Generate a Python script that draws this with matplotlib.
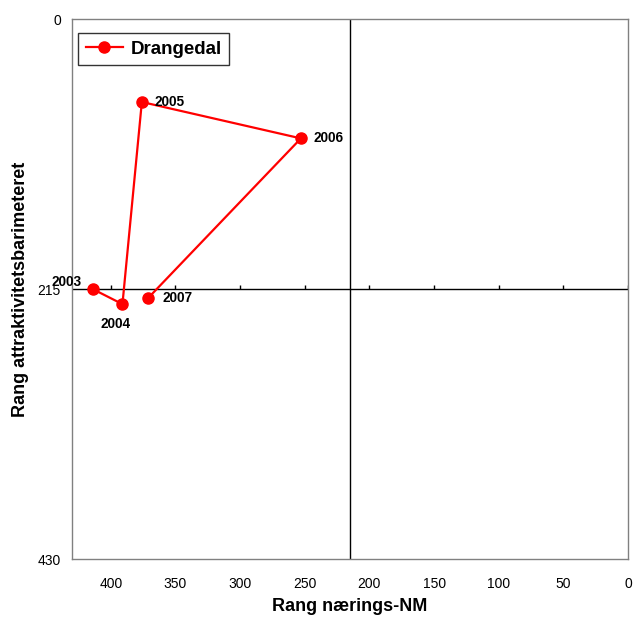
import matplotlib.pyplot as plt

plt.rcParams['font.family'] = ['Liberation Sans', 'DejaVu Sans']

# data
years = ['2003', '2004', '2005', '2006', '2007']
rang_nm = [414, 391, 376, 253, 371]
rang_attr = [215, 227, 66, 95, 222]
label_offsets = [(-30, 5), (-16, -14), (9, 0), (9, 0), (10, 0)]

xticks = [400, 350, 300, 250, 200, 150, 100, 50, 0]
yticks = [0, 215, 430]
midpoint = 215

fig = plt.figure(figsize=(6.34, 6.17), dpi=100)
ax = fig.add_axes([0.1136, 0.094, 0.877, 0.875])

# crosshair axes through the midpoint
ax.axhline(midpoint, color='black', lw=1.0, zorder=1)
ax.axvline(midpoint, color='black', lw=1.0, zorder=1)
ax.vlines(xticks, midpoint - 3, midpoint, color='black', lw=1.0, zorder=1)

ax.plot(rang_nm, rang_attr, color='red', lw=1.6, marker='o', ms=8,
        label='Drangedal', zorder=3)
for yr, x, y, off in zip(years, rang_nm, rang_attr, label_offsets):
    ax.annotate(yr, (x, y), xytext=off, textcoords='offset points',
                fontsize=9.8, fontweight='bold', va='center', ha='left')

ax.set_xlim(430, 0)
ax.set_ylim(430, 0)
ax.set_xticks(xticks)
ax.set_yticks(yticks)
ax.tick_params(axis='both', length=0, labelsize=10, pad=8)
ax.tick_params(axis='x', pad=13)
for s in ax.spines.values():
    s.set_color('#808080')
    s.set_linewidth(1.0)

ax.set_xlabel('Rang nærings-NM', fontsize=13, fontweight='bold', labelpad=5)
ax.set_ylabel('Rang attraktivitetsbarimeteret', fontsize=13, fontweight='bold', labelpad=6)

leg = ax.legend(loc='upper left', bbox_to_anchor=(0.011, 0.974), borderaxespad=0,
                prop={'weight': 'bold', 'size': 13.5},
                frameon=True, fancybox=False, handlelength=2.0,
                handletextpad=0.4, borderpad=0.4)
leg.get_frame().set_edgecolor('black')
leg.get_frame().set_linewidth(1.0)

fig.savefig('out.png', dpi=100)
